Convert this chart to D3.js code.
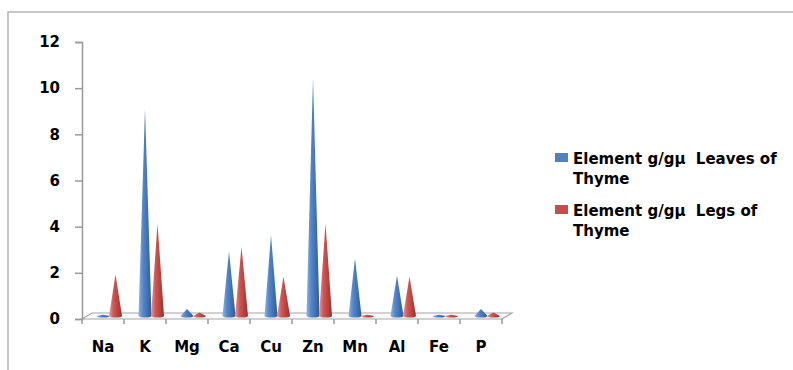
<!DOCTYPE html>
<html>
<head>
<meta charset="utf-8">
<script src="https://cdn.jsdelivr.net/npm/d3@7/dist/d3.min.js"></script>
<style>
  body { margin: 0; background: #fff; }
  text { font-family: "DejaVu Sans", sans-serif; font-weight: bold; font-size: 15px; fill: #000; }
</style>
</head>
<body>
<script>

// Chart data
const categories = ["Na", "K", "Mg", "Ca", "Cu", "Zn", "Mn", "Al", "Fe", "P"];
const leaves = [0.05, 9.0, 0.3, 2.8, 3.5, 10.3, 2.5, 1.75, 0.05, 0.3];
const legs = [1.8, 4.0, 0.15, 3.0, 1.7, 4.0, 0.05, 1.7, 0.05, 0.15];
const yTicks = [0, 2, 4, 6, 8, 10, 12];
const seriesNames = [
    ["Element g/gμ  Leaves of", "Thyme"],
    ["Element g/gμ  Legs of", "Thyme"]
];
const colors = ["#4f81bd", "#c0504d"];

// SVG size
const w = 793;
const h = 370;

// depth offset of the 3D floor
const dx = 10;
const dy = -6;

const svg = d3.select("body")
    .append("svg")
    .attr("width", w)
    .attr("height", h);

// Outer frame (left and top)
svg.append("path")
    .attr("d", `M8,${h} L8,12 L${w},12`)
    .attr("fill", "none")
    .attr("stroke", "#b4b4b4")
    .attr("stroke-width", 1.5);

// Scales
const xScale = d3.scaleBand()
    .domain(categories)
    .range([82, 502]);

const yScale = d3.scaleLinear()
    .domain([0, 12])
    .range([319, 42]);

const y0 = yScale(0);

// Gradients for cones
const defs = svg.append("defs");
const stops = [
    ["#8db3e6", "#5587c8", "#3d6cad", "#2f5892"],
    ["#e89a98", "#cc5855", "#b23f3c", "#952f2d"]
];
stops.forEach((s, i) => {
    const g = defs.append("linearGradient")
        .attr("id", "cone" + i)
        .attr("x1", "0%").attr("x2", "100%")
        .attr("y1", "0%").attr("y2", "0%");
    g.append("stop").attr("offset", "0%").attr("stop-color", s[0]);
    g.append("stop").attr("offset", "35%").attr("stop-color", s[1]);
    g.append("stop").attr("offset", "75%").attr("stop-color", s[2]);
    g.append("stop").attr("offset", "100%").attr("stop-color", s[3]);
});

// Floor
svg.append("path")
    .attr("d", `M82,${y0} L502,${y0} L${502 + dx},${y0 + dy} L${82 + dx},${y0 + dy} Z`)
    .attr("fill", "#fafafa")
    .attr("stroke", "#a6a6a6")
    .attr("stroke-width", 1.2);

// Left axis
const leftAxis = d3.axisLeft(yScale)
    .tickValues(yTicks)
    .tickSize(7)
    .tickPadding(15);

const gy = svg.append("g")
    .attr("transform", "translate(82, 0)")
    .call(leftAxis);
gy.select(".domain").attr("stroke", "#999").attr("stroke-width", 1.5);
gy.selectAll(".tick line").attr("stroke", "#999").attr("stroke-width", 1.5);
gy.selectAll("text").attr("font-family", null).attr("font-size", null).attr("fill", null);

// Bottom ticks at category edges
const edges = categories.map(c => xScale(c)).concat([xScale.range()[1]]);
svg.append("g")
    .selectAll("line")
    .data(edges)
    .join("line")
    .attr("x1", d => d).attr("x2", d => d)
    .attr("y1", y0).attr("y2", y0 + 5)
    .attr("stroke", "#999")
    .attr("stroke-width", 1.5);

// Category labels
const bottomAxis = d3.axisBottom(xScale).tickSize(0).tickPadding(22);
const gx = svg.append("g")
    .attr("transform", `translate(0, ${y0})`)
    .call(bottomAxis);
gx.select(".domain").remove();
gx.selectAll("text").attr("font-family", null).attr("font-size", null).attr("fill", null);

// Cone shape
const coneW = 13;
function cone(cx, v) {
    const base = y0 + dy / 2;
    const tip = yScale(v) + dy / 2;
    const r = coneW / 2;
    return `M${cx - r},${base} L${cx},${tip} L${cx + r},${base} A${r},1.6 0 0 1 ${cx - r},${base} Z`;
}

// Draw cones, one series after the other
[leaves, legs].forEach((series, i) => {
    svg.append("g")
        .selectAll("path")
        .data(categories)
        .join("path")
        .attr("d", (c, j) => cone(xScale(c) + xScale.bandwidth() / 2 + i * 12.5, series[j]))
        .attr("fill", `url(#cone${i})`);
});

// Legend
seriesNames.forEach((lines, i) => {
    const top = 153 + i * 52;
    svg.append("rect")
        .attr("x", 555)
        .attr("y", top)
        .attr("width", 13)
        .attr("height", 9)
        .attr("fill", colors[i]);

    lines.forEach((t, k) => {
        svg.append("text")
            .attr("x", 573)
            .attr("y", top + 10.5 + k * 20)
            .attr("xml:space", "preserve")
            .text(t);
    });
});

</script>
</body>
</html>
